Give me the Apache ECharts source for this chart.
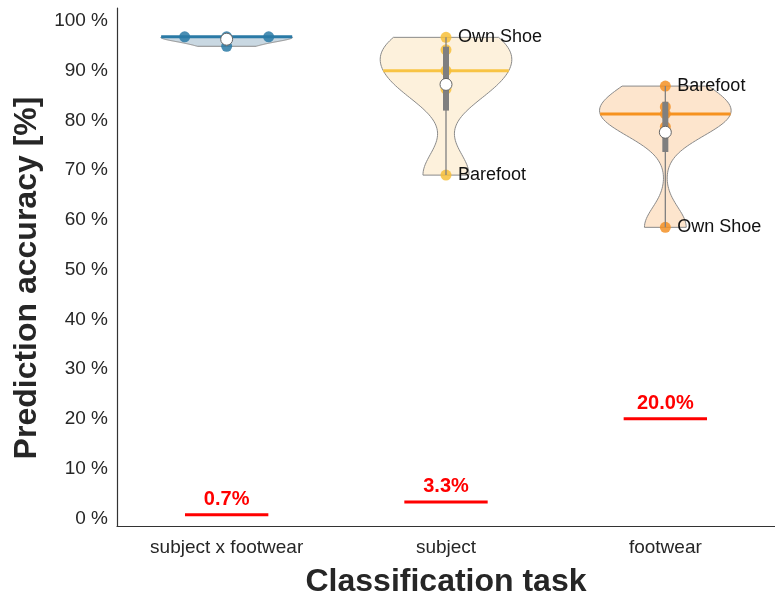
<!DOCTYPE html>
<html>
<head>
<meta charset="utf-8">
<script src="https://cdn.jsdelivr.net/npm/echarts@6/dist/echarts.min.js"></script>
<style>
  html, body { margin: 0; padding: 0; background: #fff; }
  #chart { width: 775px; height: 599px; }
</style>
</head>
<body>
<div id="chart"></div>
<script>
// categories and per-condition accuracies (%)
const categories = ['subject x footwear', 'subject', 'footwear'];
const accSubjectFootwear = [96.8, 96.8, 96.8, 94.9];
const accSubject = [96.7, 94.2, 90.0, 86.3, 69.0];
const accFootwear = [86.9, 82.7, 81.3, 78.7, 58.5];
// annotations for single points
const subjectNotes = ['Own Shoe', '', '', '', 'Barefoot'];
const footwearNotes = ['Barefoot', '', '', '', 'Own Shoe'];
// chance level per task
const chanceLevels = [0.7, 3.3, 20.0];
const yTicks = [0, 10, 20, 30, 40, 50, 60, 70, 80, 90, 100];

const groups = [accSubjectFootwear, accSubject, accFootwear];
const notes = [[], subjectNotes, footwearNotes];
const bwFactors = [1.0, 0.42, 0.36];
const lineColors = ['#2a7aa6', '#f8c445', '#f6921f'];
const dotColors = ['#2a7aa6', '#f7bf3a', '#f39025'];
const fillColors = ['#c9d8e2', '#fdf1dc', '#fde5cd'];
const FONT = '"Liberation Sans", Arial, sans-serif';

// summary stats, quartiles like hazen percentiles
function stats(vals) {
  const n = vals.length;
  const mean = vals.reduce((a, b) => a + b, 0) / n;
  const sd = Math.sqrt(vals.reduce((a, b) => a + (b - mean) ** 2, 0) / (n - 1));
  const s = vals.slice().sort((a, b) => a - b);
  const q = p => {
    let i = Math.max(0, Math.min(n - 1, p * n - 0.5));
    const lo = Math.floor(i), hi = Math.ceil(i);
    return s[lo] + (s[hi] - s[lo]) * (i - lo);
  };
  return { mean, sd, min: s[0], max: s[n - 1], q1: q(0.25), med: q(0.5), q3: q(0.75) };
}

// gaussian kde, cut at data range
function kde(vals, st, factor) {
  const bw = factor * st.sd;
  const steps = 80;
  const out = [];
  for (let k = 0; k <= steps; k++) {
    const y = st.min + (st.max - st.min) * k / steps;
    let d = 0;
    vals.forEach(v => { d += Math.exp(-0.5 * ((y - v) / bw) ** 2); });
    out.push([y, d]);
  }
  const dmax = Math.max(...out.map(o => o[1]));
  return out.map(o => [o[0], o[1] / dmax]);
}

const allStats = groups.map(stats);
const densities = groups.map((g, i) => kde(g, allStats[i], bwFactors[i]));

function densAt(i, y) {
  const d = densities[i];
  for (let k = 1; k < d.length; k++) {
    if (d[k][0] >= y) {
      const t = (y - d[k - 1][0]) / ((d[k][0] - d[k - 1][0]) || 1);
      return d[k - 1][1] + (d[k][1] - d[k - 1][1]) * t;
    }
  }
  return d[d.length - 1][1];
}

function renderViolin(params, api) {
  const i = api.value(0);
  const st = allStats[i];
  const half = api.size([1, 0])[0] * 0.3;
  const cx = api.coord([i, st.med])[0];
  const right = densities[i].map(([y, d]) => [cx + half * d, api.coord([i, y])[1]]);
  const left = densities[i].map(([y, d]) => [cx - half * d, api.coord([i, y])[1]]).reverse();
  const children = [];
  children.push({
    type: 'polygon', shape: { points: right.concat(left) },
    style: { fill: fillColors[i], stroke: '#8a8a8a', lineWidth: 1 }
  });
  const ym = api.coord([i, st.med])[1];
  const wm = half * densAt(i, st.med);
  children.push({
    type: 'line', shape: { x1: cx - wm, y1: ym, x2: cx + wm, y2: ym },
    style: { stroke: lineColors[i], lineWidth: 3 }
  });
  // points, identical values spread sideways
  const vals = groups[i];
  const seen = {};
  vals.forEach((v, k) => {
    const cnt = vals.filter(w => w === v).length;
    const idx = (seen[v] = (seen[v] === undefined ? 0 : seen[v] + 1));
    const off = (idx - (cnt - 1) / 2) * 42;
    const p = api.coord([i, v]);
    children.push({
      type: 'circle', shape: { cx: cx + off, cy: p[1], r: 5.5 },
      style: { fill: dotColors[i], opacity: 0.85 }
    });
    const note = notes[i][k];
    if (note) {
      children.push({
        type: 'text', x: cx + off + 12, y: p[1],
        style: { text: note, fill: '#111', font: '18px ' + FONT, verticalAlign: 'middle', align: 'left' }
      });
    }
  });
  const yMin = api.coord([i, st.min])[1], yMax = api.coord([i, st.max])[1];
  children.push({
    type: 'line', shape: { x1: cx, y1: yMin, x2: cx, y2: yMax },
    style: { stroke: '#808080', lineWidth: 1.3 }
  });
  const yq1 = api.coord([i, st.q1])[1], yq3 = api.coord([i, st.q3])[1];
  children.push({
    type: 'line', shape: { x1: cx, y1: yq1, x2: cx, y2: yq3 },
    style: { stroke: '#7f7f7f', lineWidth: 6 }
  });
  const pm = api.coord([i, st.mean]);
  children.push({
    type: 'circle', shape: { cx: cx, cy: pm[1], r: 6 },
    style: { fill: '#fff', stroke: '#666', lineWidth: 1 }
  });
  return { type: 'group', children };
}

function renderChance(params, api) {
  const i = api.value(0);
  const v = api.value(1);
  const p = api.coord([i, v]);
  const w = api.size([1, 0])[0] * 0.19;
  return {
    type: 'group',
    children: [
      { type: 'line', shape: { x1: p[0] - w, y1: p[1], x2: p[0] + w, y2: p[1] },
        style: { stroke: '#ff0000', lineWidth: 3 } },
      { type: 'text', x: p[0], y: p[1] - 5,
        style: { text: v.toFixed(1) + '%', fill: '#ff0000', font: 'bold 20px ' + FONT,
                 align: 'center', verticalAlign: 'bottom' } }
    ]
  };
}

const chart = echarts.init(document.getElementById('chart'), null, { renderer: 'canvas' });
chart.setOption({
  animation: false,
  backgroundColor: '#fff',
  grid: { left: 117, right: 0, top: 8, bottom: 73, containLabel: false, outerBoundsMode: 'none' },
  xAxis: {
    type: 'category', data: categories, boundaryGap: true,
    axisLine: { onZero: false, lineStyle: { color: '#333', width: 1.2 } },
    axisTick: { show: false },
    axisLabel: { fontSize: 19, fontFamily: FONT, color: '#262626', margin: 12 },
    name: 'Classification task', nameLocation: 'middle', nameGap: 40,
    nameTextStyle: { fontSize: 32, fontWeight: 'bold', fontFamily: FONT, color: '#262626' }
  },
  yAxis: {
    type: 'value', min: -1.55, max: 102.6,
    axisLine: { show: true, lineStyle: { color: '#333', width: 1.2 } },
    axisTick: { show: false },
    splitLine: { show: false },
    axisLabel: { customValues: yTicks, formatter: v => v + ' %', fontSize: 19,
                 fontFamily: FONT, color: '#262626', margin: 9 },
    name: 'Prediction accuracy [%]', nameLocation: 'middle', nameGap: 63,
    nameTextStyle: { fontSize: 32, fontWeight: 'bold', fontFamily: FONT, color: '#262626',
                     padding: [0, 22, 0, 0] }
  },
  series: [
    { type: 'custom', renderItem: renderViolin, clip: false,
      data: groups.map((g, i) => [i, allStats[i].med]), encode: { x: 0, y: 1 } },
    { type: 'custom', renderItem: renderChance, clip: false,
      data: chanceLevels.map((v, i) => [i, v]), encode: { x: 0, y: 1 } }
  ]
});
</script>
</body>
</html>
